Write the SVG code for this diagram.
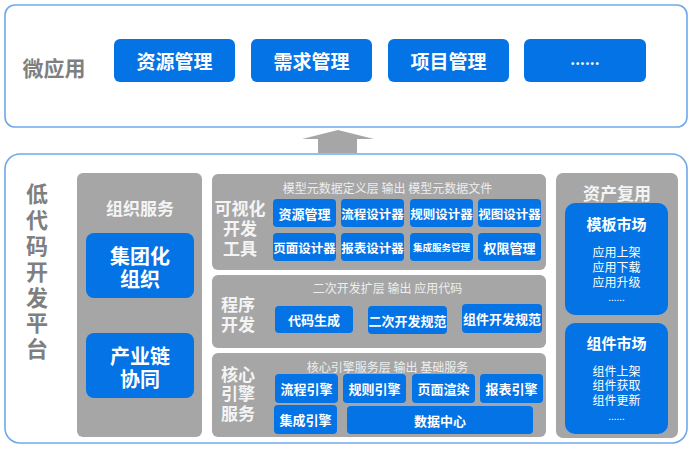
<svg xmlns="http://www.w3.org/2000/svg" width="692" height="450" viewBox="0 0 692 450">
<style>
text{font-family:"Noto Sans CJK SC","Liberation Sans",sans-serif;dominant-baseline:central;text-anchor:middle}
.frame{fill:#fff;stroke:#6fa9ec;stroke-width:1.6}
.panel{fill:#a6a6a6}
.btn{fill:#0373e6}
.big{font-size:19px;font-weight:bold;fill:#fff}
.lbl{font-size:21px;font-weight:bold;fill:#7f7f7f}
.head{font-size:17px;font-weight:bold;fill:#f4f4f4}
.sub{font-size:12px;fill:#eeeeee}
.b13{font-size:13px;font-weight:bold;fill:#fff}
.b12{font-size:12.5px;font-weight:bold;fill:#fff}
.b20{font-size:20px;font-weight:bold;fill:#fff}
.mk{font-size:15px;font-weight:bold;fill:#fff}
.it{font-size:12px;fill:#fff}
</style>
<g id="micro-apps">
<rect class="frame" x="5" y="5" width="682" height="122" rx="10"/>
<text class="lbl" x="54" y="67">微应用</text>
</g>
<g id="app-resource"><rect class="btn" x="114" y="39" width="121" height="43" rx="6"/><text class="big" x="174.5" y="60.5">资源管理</text></g>
<g id="app-demand"><rect class="btn" x="251" y="39" width="121" height="43" rx="6"/><text class="big" x="311.5" y="60.5">需求管理</text></g>
<g id="app-project"><rect class="btn" x="388" y="39" width="121" height="43" rx="6"/><text class="big" x="448.5" y="60.5">项目管理</text></g>
<g id="app-more"><rect class="btn" x="524" y="39" width="122" height="43" rx="6"/><text class="big" x="585" y="58" style="font-size:15px">......</text></g>
<g id="connectors">
<polygon points="338,130 374,139 357,139 357,153 318,153 318,139 302,139" fill="#a6a6a6"/>
</g>
<g id="platform">
<rect class="frame" x="5" y="154" width="682" height="289" rx="15"/>
<text class="lbl" style="font-size:22px" x="37" y="192"><tspan x="37" y="192">低</tspan><tspan x="37" y="218">代</tspan><tspan x="37" y="244">码</tspan><tspan x="37" y="270">开</tspan><tspan x="37" y="296">发</tspan><tspan x="37" y="321">平</tspan><tspan x="37" y="347">台</tspan></text>
</g>
<g id="org-service">
<rect class="panel" x="77" y="173" width="125" height="264" rx="6"/>
<text class="head" x="140" y="207">组织服务</text>
<rect class="btn" x="86" y="233" width="108" height="65" rx="8"/>
<text class="b20" x="140" y="256"><tspan x="140" y="255">集团化</tspan><tspan x="140" y="278">组织</tspan></text>
<rect class="btn" x="86" y="333" width="108" height="65" rx="8"/>
<text class="b20" x="140" y="355"><tspan x="140" y="355">产业链</tspan><tspan x="140" y="378">协同</tspan></text>
</g>
<g id="visual-tools">
<rect class="panel" x="212" y="174" width="334" height="96" rx="6"/>
<text class="sub" x="387.5" y="187">模型元数据定义层 输出 模型元数据文件</text>
<text class="head" x="240" y="207"><tspan x="240" y="207">可视化</tspan><tspan x="240" y="227">开发</tspan><tspan x="240" y="247">工具</tspan></text>
<rect class="btn" x="273" y="199" width="63" height="28" rx="4"/><text class="b13" x="304.5" y="213">资源管理</text>
<rect class="btn" x="341" y="199" width="63" height="28" rx="4"/><text class="b12" x="372.5" y="213">流程设计器</text>
<rect class="btn" x="410" y="199" width="63" height="28" rx="4"/><text class="b12" x="441.5" y="213">规则设计器</text>
<rect class="btn" x="478" y="199" width="63" height="28" rx="4"/><text class="b12" x="509.5" y="213">视图设计器</text>
<rect class="btn" x="273" y="233" width="63" height="28" rx="4"/><text class="b12" x="304.5" y="247">页面设计器</text>
<rect class="btn" x="341" y="233" width="63" height="28" rx="4"/><text class="b12" x="372.5" y="247">报表设计器</text>
<rect class="btn" x="410" y="233" width="63" height="28" rx="4"/><text class="b13" style="font-size:9.5px" x="441.5" y="247">集成服务管理</text>
<rect class="btn" x="478" y="233" width="63" height="28" rx="4"/><text class="b13" x="509.5" y="247">权限管理</text>
</g>
<g id="program-dev">
<rect class="panel" x="212" y="275" width="334" height="73" rx="6"/>
<text class="sub" x="387.5" y="287">二次开发扩层 输出 应用代码</text>
<text class="head" x="238" y="303"><tspan x="238" y="303">程序</tspan><tspan x="238" y="323">开发</tspan></text>
<rect class="btn" x="275" y="306" width="78" height="27" rx="4"/><text class="b13" x="314" y="319.5">代码生成</text>
<rect class="btn" x="368" y="306" width="79" height="28" rx="4"/><text class="b13" x="407.5" y="320">二次开发规范</text>
<rect class="btn" x="462" y="304" width="80" height="29" rx="4"/><text class="b13" x="502" y="318.5">组件开发规范</text>
</g>
<g id="core-engine">
<rect class="panel" x="212" y="353" width="334" height="84" rx="6"/>
<text class="sub" x="387.5" y="366">核心引擎服务层 输出 基础服务</text>
<text class="head" x="238" y="373"><tspan x="238" y="373">核心</tspan><tspan x="238" y="392">引擎</tspan><tspan x="238" y="412">服务</tspan></text>
<rect class="btn" x="275" y="374" width="63" height="29" rx="4"/><text class="b13" x="306.5" y="388.5">流程引擎</text>
<rect class="btn" x="343" y="374" width="63" height="29" rx="4"/><text class="b13" x="374.5" y="388.5">规则引擎</text>
<rect class="btn" x="412" y="374" width="63" height="29" rx="4"/><text class="b13" x="443.5" y="388.5">页面渲染</text>
<rect class="btn" x="480" y="374" width="63" height="29" rx="4"/><text class="b13" x="511.5" y="388.5">报表引擎</text>
<rect class="btn" x="274" y="405" width="63" height="29" rx="4"/><text class="b13" x="305.5" y="419.5">集成引擎</text>
<rect class="btn" x="347" y="406" width="186" height="28" rx="4"/><text class="b13" x="440" y="420">数据中心</text>
</g>
<g id="asset-reuse">
<rect class="panel" x="556" y="173" width="122" height="265" rx="7"/>
<text class="head" x="617" y="192">资产复用</text>
<rect class="btn" x="565" y="203" width="103" height="112" rx="10"/>
<text class="mk" x="616.5" y="223">模板市场</text>
<text class="it" x="616.5" y="251"><tspan x="616.5" y="251">应用上架</tspan><tspan x="616.5" y="266">应用下载</tspan><tspan x="616.5" y="281">应用升级</tspan><tspan x="616.5" y="296" style="font-size:10px">......</tspan></text>
<rect class="btn" x="565" y="323" width="103" height="111" rx="10"/>
<text class="mk" x="616.5" y="342">组件市场</text>
<text class="it" x="616.5" y="370"><tspan x="616.5" y="370">组件上架</tspan><tspan x="616.5" y="384">组件获取</tspan><tspan x="616.5" y="399">组件更新</tspan><tspan x="616.5" y="415" style="font-size:10px">......</tspan></text>
</g>
</svg>
